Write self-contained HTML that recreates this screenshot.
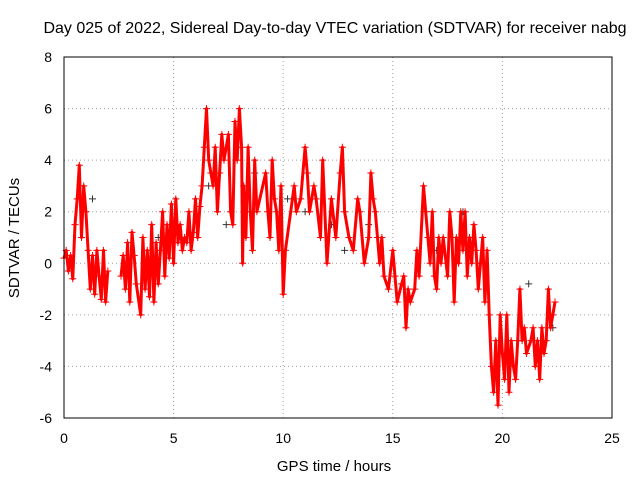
<!DOCTYPE html>
<html><head><meta charset="utf-8"><style>
html,body{margin:0;padding:0;background:#fff;}
svg{display:block;font-family:"Liberation Sans",sans-serif;}
</style></head><body>
<svg id="chart" width="640" height="480" xmlns="http://www.w3.org/2000/svg">
<text x="335" y="33" font-size="16" text-anchor="middle">Day 025 of 2022, Sidereal Day-to-day VTEC variation (SDTVAR) for receiver nabg</text>
<text x="334" y="471" font-size="15" text-anchor="middle">GPS time / hours</text>
<text transform="translate(19,238) rotate(-90)" font-size="15" text-anchor="middle">SDTVAR / TECUs</text>
<g id="grid"></g><g id="ticks"></g><g id="marks"></g>
<rect x="64" y="57" width="548" height="361" fill="none" stroke="#000" stroke-width="1"/>
</svg>
<script>
const xTicks=[0,5,10,15,20,25];
const yTicks=[-6,-4,-2,0,2,4,6,8];
const times=[0,0.1,0.2,0.3,0.4,0.5,0.6,0.7,0.8,0.9,1.0,1.1,1.2,1.3,1.4,1.5,1.6,1.7,1.8,1.9,2.0,
2.6,2.7,2.8,2.9,3.0,3.1,3.2,3.3,3.5,3.6,3.7,3.8,3.9,4.0,4.1,4.2,4.3,4.4,4.5,4.6,4.7,4.8,4.9,5.0,5.1,5.2,5.3,5.4,5.5,5.6,5.7,5.8,5.9,6.0,6.1,6.2,6.3,6.4,6.5,6.6,6.7,6.8,6.9,7.0,7.1,7.2,7.3,7.5,7.6,7.7,7.8,7.9,8.0,8.1,8.15,8.2,8.3,8.4,8.5,8.6,8.7,8.8,9.2,9.3,9.4,9.5,9.6,9.7,9.8,9.9,10.0,10.1,10.5,10.6,10.8,11.0,11.1,11.2,11.4,11.5,11.7,11.8,12.0,12.2,12.4,12.6,12.7,12.8,13.0,13.2,13.4,13.5,13.7,13.9,14.0,14.1,14.2,14.3,14.4,14.5,14.6,14.8,15.0,15.1,15.2,15.4,15.5,15.6,15.7,15.8,16.0,16.1,16.2,16.4,16.5,16.6,16.7,16.8,16.9,17.0,17.1,17.2,17.3,17.5,17.6,17.7,17.8,17.9,18.0,18.1,18.2,18.3,18.4,18.5,18.6,18.7,18.8,18.9,19.0,19.1,19.2,19.3,19.4,19.5,19.6,19.7,19.8,19.9,20.0,20.1,20.2,20.3,20.4,20.5,20.6,20.7,20.8,20.9,21.0,21.1,21.3,21.4,21.5,21.6,21.7,21.8,21.9,22.0,22.1,22.2,22.3,22.4,22.5,22.6,22.7,22.8,22.9];
const values=[0.2,0.5,-0.3,0.3,-0.6,1.5,2.5,3.8,1.0,3.0,2.0,0.5,-1.0,0.3,-1.2,0.5,-0.5,-1.4,0.5,-1.5,-0.3,
-0.5,0.3,-1.0,0.8,-1.5,1.2,0.3,-0.8,-2.0,1.0,-1.0,0.5,-1.3,1.5,-1.5,0.8,-0.8,0.5,2.0,-0.5,1.5,0.2,2.3,0.0,2.5,0.8,1.5,0.5,1.0,0.8,2.0,0.5,1.2,2.5,1.0,2.2,3.0,4.5,6.0,4.0,3.5,3.0,4.5,2.0,3.5,5.0,4.0,5.0,2.0,1.5,5.5,4.0,6.0,4.5,0.0,3.0,1.0,4.5,2.0,0.5,4.0,2.0,3.5,2.0,1.0,4.0,2.5,2.0,0.5,3.0,-1.2,0.5,3.0,2.0,2.5,4.5,3.5,2.0,3.0,2.5,1.0,4.0,0.0,2.5,1.0,3.5,4.5,2.0,1.0,0.5,2.5,2.0,0.0,1.0,3.5,2.5,2.0,1.0,0.0,1.0,-0.5,-1.0,0.5,-0.5,-1.5,-0.8,-0.5,-2.5,-1.0,-1.5,-1.0,0.5,-0.5,3.0,2.0,1.0,0.0,2.0,-0.5,-1.0,1.0,0.0,1.0,-0.5,2.0,1.0,-1.5,1.0,0.0,2.0,0.5,2.0,-0.5,1.0,0.0,1.5,0.5,-1.0,0.0,1.0,-1.5,0.5,-2.0,-4.0,-5.0,-3.0,-5.5,-2.0,-3.5,-4.5,-2.0,-5.0,-3.0,-4.0,-4.5,-3.0,-1.0,-3.0,-2.5,-3.5,-3.0,-2.5,-4.0,-3.0,-4.5,-2.5,-3.5,-3.0,-1.0,-2.5,-2.0,-1.5];
const blackTimes=[0.3,1.3,4.3,6.6,7.4,8.7,10.2,11.0,12.2,12.8,13.9,17.0,18.2,19.0,21.2,22.3];
const blackValues=[0.0,2.5,1.0,3.0,1.5,3.5,2.5,2.0,1.5,0.5,1.5,0.5,2.0,0.0,-0.8,-2.5];
const X0=64,X1=612,Y0=418,Y1=57;
const xs=t=>X0+(t-0)/25*(X1-X0);
const ys=v=>Y0-(v+6)/14*(Y0-Y1);
const NS="http://www.w3.org/2000/svg";
const grid=document.getElementById('grid'),ticks=document.getElementById('ticks'),marks=document.getElementById('marks');
xTicks.forEach(t=>{
  const x=xs(t);
  if(t>0&&t<25){const l=document.createElementNS(NS,'line');l.setAttribute('x1',x);l.setAttribute('x2',x);l.setAttribute('y1',Y1);l.setAttribute('y2',Y0);l.setAttribute('stroke','#a0a0a0');l.setAttribute('stroke-dasharray','1,3');
  
  
  grid.appendChild(l);}
  const tx=document.createElementNS(NS,'text');tx.setAttribute('x',x);tx.setAttribute('y',443);tx.setAttribute('font-size','14');tx.setAttribute('text-anchor','middle');tx.textContent=t;
  
  
  ticks.appendChild(tx);
});
yTicks.forEach(v=>{
  const y=ys(v);
  if(v>-6&&v<8){const l=document.createElementNS(NS,'line');l.setAttribute('x1',X0);l.setAttribute('x2',X1);l.setAttribute('y1',y);l.setAttribute('y2',y);l.setAttribute('stroke','#a0a0a0');l.setAttribute('stroke-dasharray','1,3');
  
  
  grid.appendChild(l);}
  const tx=document.createElementNS(NS,'text');tx.setAttribute('x',52);tx.setAttribute('y',y+5);tx.setAttribute('font-size','14');tx.setAttribute('text-anchor','end');tx.textContent=v;
  
  
  ticks.appendChild(tx);
});
function plus(x,y,c){
  const p=document.createElementNS(NS,'path');
  p.setAttribute('d',`M${x-3.5},${y}H${x+3.5}M${x},${y-3.5}V${y+3.5}`);
  p.setAttribute('stroke',c);p.setAttribute('stroke-width','1');
  return p;
}
blackTimes.forEach((t,i)=>{
  const p=plus(xs(t),ys(blackValues[i]),'#333');
  
  
  marks.appendChild(p);
});
let d='';
times.forEach((t,i)=>{
  d+=(i===0||t-times[i-1]>0.45?'M':'L')+xs(t).toFixed(1)+','+ys(values[i]).toFixed(1);
});
const line=document.createElementNS(NS,'path');line.setAttribute('d',d);line.setAttribute('fill','none');line.setAttribute('stroke','#ff0000');line.setAttribute('stroke-width','3');line.setAttribute('stroke-linejoin','round');


marks.appendChild(line);
times.forEach((t,i)=>{
  const p=plus(xs(t),ys(values[i]),'#ff0000');
  
  
  marks.appendChild(p);
});
</script>
</body></html>
